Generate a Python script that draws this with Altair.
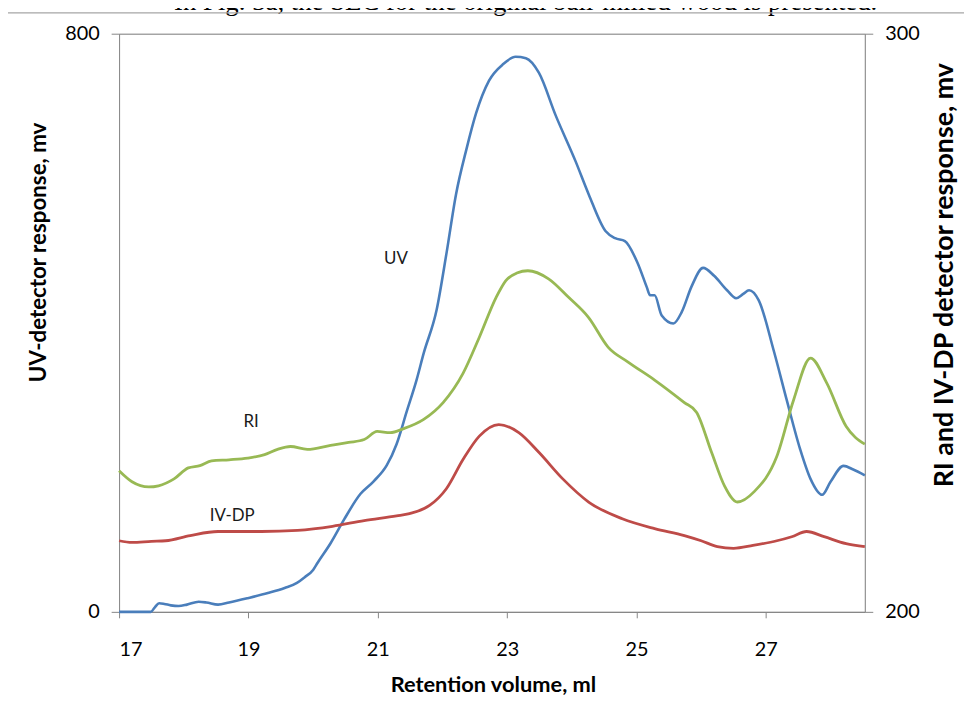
import altair as alt
import pandas as pd

# ---- data ----
uv_x = [17.0, 17.49, 17.55, 17.62, 17.70, 17.80, 17.92, 18.05, 18.23, 18.35, 18.53, 18.70,
        18.99, 19.30, 19.56, 19.75, 19.87, 20.0, 20.07, 20.27, 20.48, 20.73, 20.94, 21.14,
        21.29, 21.45, 21.60, 21.71, 21.91, 22.06, 22.21, 22.37, 22.52, 22.72, 22.94, 23.13,
        23.29, 23.49, 23.75, 24.06, 24.26, 24.52, 24.67, 24.82, 25.02, 25.16, 25.21, 25.28,
        25.39, 25.57, 25.70, 25.85, 26.03, 26.20, 26.40, 26.54, 26.65, 26.74, 26.89, 27.12,
        27.32, 27.53, 27.69, 27.87, 28.00, 28.20, 28.35, 28.53]
uv_y = [0, 0, 6, 12, 11, 9, 8, 10, 14, 13, 10, 13,
        19, 26, 33, 40, 48, 58, 68, 95, 128, 163, 181, 203,
        232, 278, 321, 358, 418, 495, 578, 640, 690, 735, 758, 768,
        766, 746, 687, 623, 578, 527, 517, 513, 482, 449, 438, 438,
        410, 399, 415, 450, 476, 465, 445, 434, 440, 445, 431, 362,
        294, 225, 184, 162, 180, 202, 197, 189]

ri_x = [17.0, 17.2, 17.46, 17.61, 17.85, 18.07, 18.25, 18.43, 18.7, 18.99, 19.25, 19.45,
        19.65, 19.91, 20.27, 20.55, 20.79, 20.99, 21.19, 21.40, 21.71, 22.01, 22.32, 22.57,
        22.83, 22.98, 23.15, 23.32, 23.64, 23.95, 24.26, 24.56, 24.87, 25.28, 25.74, 25.93,
        26.16, 26.36, 26.56, 26.82, 27.17, 27.43, 27.69, 27.94, 28.24, 28.53]
ri_y = [224.4, 222.5, 221.6, 221.8, 223.0, 224.9, 225.3, 226.1, 226.3, 226.6, 227.2, 228.1,
        228.6, 228.1, 228.8, 229.3, 229.8, 231.2, 231.0, 231.7, 233.3, 236.2, 241.3, 247.5,
        254.4, 257.3, 258.6, 259.0, 257.6, 254.4, 250.9, 245.8, 243.2, 240.1, 236.2, 234.5,
        227.6, 221.8, 219.0, 220.8, 226.9, 236.7, 243.9, 239.6, 232.1, 229.0]

dp_x = [17.0, 17.2, 17.5, 17.72, 18.1, 18.53, 19.2, 19.76, 20.3, 20.79, 21.29, 21.49,
        21.8, 22.06, 22.32, 22.57, 22.87, 23.18, 23.49, 23.86, 24.26, 24.78, 25.28, 25.74,
        26.0, 26.25, 26.5, 26.8, 27.17, 27.4, 27.63, 27.9, 28.24, 28.53]
dp_y = [212.3, 212.0, 212.2, 212.3, 213.2, 213.9, 213.9, 214.1, 214.8, 215.8, 216.6, 217.0,
        218.4, 221.3, 226.4, 230.4, 232.4, 231.0, 227.6, 223.0, 219.0, 216.1, 214.4, 213.2,
        212.3, 211.3, 211.0, 211.5, 212.3, 213.0, 213.9, 213.0, 211.8, 211.3]

x_ticks = [17, 19, 21, 23, 25, 27]
left_ticks = [0, 800]
right_ticks = [200, 300]

left_labels = ["UV"]
left_label_x = [21.28]
left_label_y = [488]
right_labels = ["RI", "IV-DP"]
right_label_x = [19.04, 18.75]
right_label_y = [232.9, 216.5]

caption = ["In Fig. 3a, the SEC for the original ball-milled wood is presented."]

# ---- frames ----
uv_df = pd.DataFrame({"x": uv_x, "y": uv_y})
rd_df = pd.concat([
    pd.DataFrame({"x": ri_x, "y": ri_y, "s": "RI"}),
    pd.DataFrame({"x": dp_x, "y": dp_y, "s": "IV-DP"}),
])
lt_df = pd.DataFrame({"x": left_label_x, "y": left_label_y, "t": left_labels})
rt_df = pd.DataFrame({"x": right_label_x, "y": right_label_y, "t": right_labels})
cap_df = pd.DataFrame({"t": caption})

AX = "#868686"
FONT = "Lato"

xscale = alt.Scale(domain=[17, 28.53], nice=False, zero=False)
yl_scale = alt.Scale(domain=[0, 800], nice=False, zero=False)
yr_scale = alt.Scale(domain=[200, 300], nice=False, zero=False)

x_axis = alt.Axis(values=x_ticks, format="d", grid=False, domainColor=AX, tickColor=AX, tickSize=6,
                  labelFont=FONT, labelFontSize=20, labelColor="#000000", labelPadding=22,
                  title="Retention volume, ml", titleFont=FONT, titleFontSize=22,
                  titleFontWeight="bold", titleColor="#000000", titleX=377, titleY=73,
                  titleAlign="center", titleBaseline="middle")

yl_axis = alt.Axis(values=left_ticks, grid=True, gridColor=AX, domainColor=AX, tickColor=AX,
                   tickSize=8, labelFont=FONT, labelFontSize=20, labelColor="#000000",
                   labelPadding=12, title="UV-detector response, mv", titleFont=FONT,
                   titleFontSize=22.5, titleFontWeight="bold", titleColor="#000000",
                   titleAngle=270, titleX=-81, titleY=220, titleAlign="center",
                   titleBaseline="middle")

yr_axis = alt.Axis(values=right_ticks, orient="right", grid=False, domainColor=AX,
                   tickColor=AX, tickSize=8, labelFont=FONT, labelFontSize=20,
                   labelColor="#000000", labelPadding=12,
                   title="RI and IV-DP detector response, mv", titleFont=FONT,
                   titleFontSize=27, titleFontWeight="bold", titleColor="#000000",
                   titleAngle=270, titleX=80, titleY=243, titleAlign="center",
                   titleBaseline="middle")

uv_line = alt.Chart(uv_df).mark_line(color="#4A7EBB", strokeWidth=2.6,
                                     interpolate="monotone").encode(
    x=alt.X("x:Q", scale=xscale, axis=x_axis),
    y=alt.Y("y:Q", scale=yl_scale, axis=yl_axis),
)
uv_text = alt.Chart(lt_df).mark_text(font=FONT, fontSize=17, color="#1a1a1a").encode(
    x=alt.X("x:Q", scale=xscale),
    y=alt.Y("y:Q", scale=yl_scale),
    text="t:N",
)
cap_text = alt.Chart(cap_df).mark_text(font="Liberation Serif", fontSize=27, color="#000000",
                                       align="center", baseline="alphabetic").encode(
    x=alt.value(410), y=alt.value(-24), text="t:N")
frame_top = alt.Chart(cap_df).mark_rule(color="#A6A6A6", strokeWidth=1.2).encode(
    x=alt.value(-112), x2=alt.value(852), y=alt.value(-21))

left = alt.layer(uv_line, uv_text, cap_text, frame_top)

rd_lines = alt.Chart(rd_df).mark_line(strokeWidth=2.8, interpolate="monotone").encode(
    x=alt.X("x:Q", scale=xscale),
    y=alt.Y("y:Q", scale=yr_scale, axis=yr_axis),
    color=alt.Color("s:N", scale=alt.Scale(domain=["RI", "IV-DP"], range=["#98B954", "#BE4B48"]),
                    legend=None),
    detail="s:N",
)
rd_text = alt.Chart(rt_df).mark_text(font=FONT, fontSize=17, color="#1a1a1a").encode(
    x=alt.X("x:Q", scale=xscale),
    y=alt.Y("y:Q", scale=yr_scale),
    text="t:N",
)
right = alt.layer(rd_lines, rd_text)

chart = alt.layer(left, right).resolve_scale(y="independent").properties(
    width=752, height=583,
    autosize=alt.AutoSizeParams(type="none"),
    padding={"left": 112, "top": 23, "right": 100, "bottom": 91},
).configure_view(stroke=None).configure(background="#ffffff")

chart.save("out.html", embed_options={"renderer": "svg", "actions": False})
